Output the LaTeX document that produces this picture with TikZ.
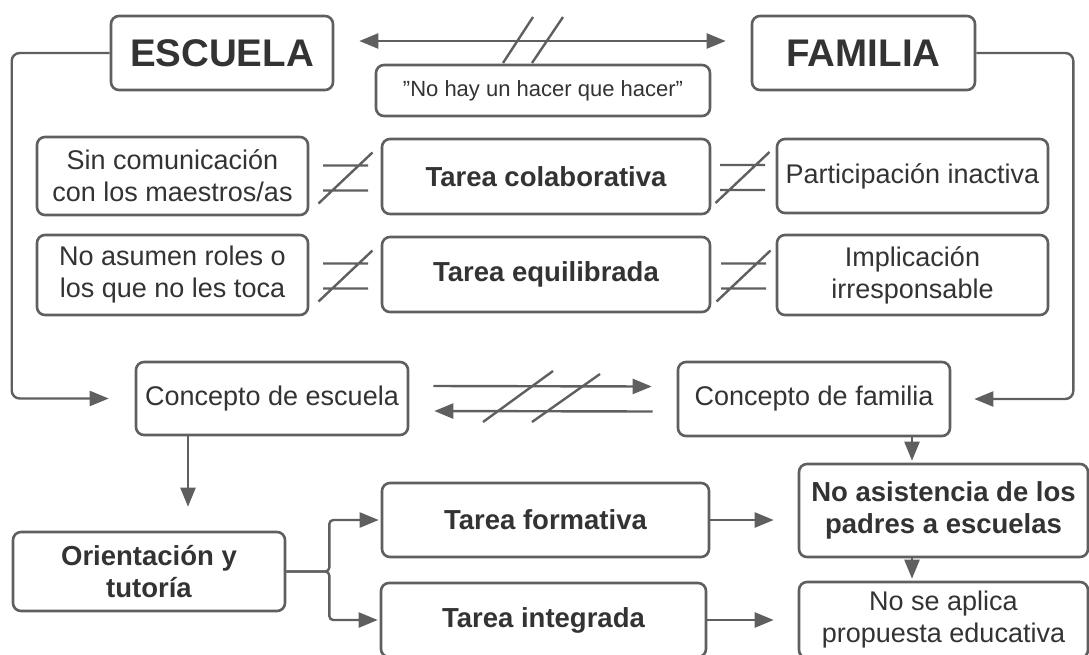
\documentclass[tikz,border=0pt]{standalone}
\usepackage{fontspec}
\setmainfont{Liberation Sans}
\usetikzlibrary{arrows.meta,calc}
\definecolor{ln}{HTML}{5F5F5F}
\definecolor{tx}{HTML}{333333}
\tikzset{
  box/.style={draw=ln, line width=2.6pt, rounded corners=8pt, fill=white, text=tx, align=center, inner sep=0pt, font=\fontsize{27}{32}\selectfont},
  bbox/.style={box, font=\fontsize{27.5}{32.5}\selectfont\bfseries},
  conn/.style={draw=ln, line width=2.4pt},
  arr/.style={conn, -{Triangle[length=19pt,width=15pt]}},
  darr/.style={conn, {Triangle[length=19pt,width=15pt]}-{Triangle[length=19pt,width=15pt]}},
  hatch/.style={draw=ln, line width=2.4pt},
  neq/.pic={\draw[hatch] (-22.5,-12.5) -- (22.5,-12.5) (-22.5,12.5) -- (22.5,12.5) (-27,25.5) -- (27,-25.5);}
}
\begin{document}
\begin{tikzpicture}[x=1pt,y=-1pt]
\useasboundingbox (0,0) rectangle (1089,654);
% top row
\node[box, minimum width=222pt, minimum height=74pt, font=\fontsize{38.5}{45}\selectfont\bfseries] (esc) at (222,53) {ESCUELA};
\node[box, minimum width=223pt, minimum height=74pt, font=\fontsize{38.5}{45}\selectfont\bfseries] (fam) at (863.5,53) {FAMILIA};
\node[box, minimum width=334pt, minimum height=51pt, font=\fontsize{22}{26}\selectfont] (quote) at (543,90.5) {\symbol{34}No hay un hacer que hacer\symbol{34}};
% row 1
\node[box, minimum width=271pt, minimum height=78pt] (sin) at (172.5,176) {Sin comunicación\\con los maestros/as};
\node[bbox, minimum width=328pt, minimum height=75pt] (colab) at (546,176.5) {Tarea colaborativa};
\node[box, minimum width=271pt, minimum height=74pt] (part) at (912.5,176) {Participación inactiva};
% row 2
\node[box, minimum width=271pt, minimum height=80pt] (noas) at (172.5,275) {No asumen roles o\\los que no les toca};
\node[bbox, minimum width=328pt, minimum height=75pt] (equi) at (546,274.5) {Tarea equilibrada};
\node[box, minimum width=271pt, minimum height=80pt] (impl) at (912.5,275) {Implicación\\irresponsable};
% concepts
\node[box, minimum width=272pt, minimum height=73pt] (cesc) at (272,398.5) {Concepto de escuela};
\node[box, minimum width=272pt, minimum height=74pt] (cfam) at (814,399) {Concepto de familia};
% bottom
\node[bbox, minimum width=272pt, minimum height=79pt] (orient) at (149,571.5) {Orientación y\\tutoría};
\node[bbox, minimum width=327pt, minimum height=74pt] (form) at (545.5,520) {Tarea formativa};
\node[bbox, minimum width=325pt, minimum height=74pt] (integ) at (543.5,620) {Tarea integrada};
\node[bbox, minimum width=289pt, minimum height=93pt] (noasist) at (943.5,510.5) {No asistencia de los\\padres a escuelas};
\node[box, minimum width=289pt, minimum height=76pt] (nosea) at (943.5,620) {No se aplica\\propuesta educativa};

% top double arrow with hatch
\draw[darr] ($(esc.east)+(25,-12)$) -- ($(fam.west)+(-25,-12)$);
\draw[hatch] (503,63) -- (533,17) (532,63) -- (563,17);

% not-equal signs
\pic at (345.5,178) {neq};
\pic at (742.5,177.5) {neq};
\pic at (345.5,276) {neq};
\pic at (743.5,276) {neq};

% side loops
\draw[arr, rounded corners=8pt] (esc.west) -- ++(-98,0) |- ([xshift=-26pt]cesc.west);
\draw[arr, rounded corners=8pt] (fam.east) -- ++(97,0) |- ([xshift=23pt]cfam.east);

% concept arrows
\draw[arr] ($(cesc.east)+(24,-12.5)$) -- ($(cfam.west)+(-25,-12.5)$);
\draw[arr] ($(cfam.west)+(-24,12.5)$) -- ($(cesc.east)+(25,12.5)$);
\draw[hatch] (483,422) -- (553,371) (532,422) -- (600,374);

% down arrows
\draw[arr, shorten >=24pt] ([xshift=-84pt]cesc.south) -- ([xshift=39pt]orient.north);
\draw[arr, shorten >=2pt] ([xshift=98pt]cfam.south) -- ([xshift=-31.5pt]noasist.north);
\draw[arr, shorten >=2pt] ([xshift=-31.5pt]noasist.south) -- ([xshift=-31.5pt]nosea.north);

% orientation branches
\draw[arr, rounded corners=4pt] (orient.east) -- ++(43,0) |- ([xshift=-2pt]form.west);
\draw[arr, rounded corners=4pt] (orient.east) -- ++(43,0) |- ([xshift=-2pt]integ.west);

% to results
\draw[arr, shorten >=24pt] (form.east) -- (form.east -| noasist.west);
\draw[arr, shorten >=24pt] (integ.east) -- (integ.east -| nosea.west);
\end{tikzpicture}
\end{document}
